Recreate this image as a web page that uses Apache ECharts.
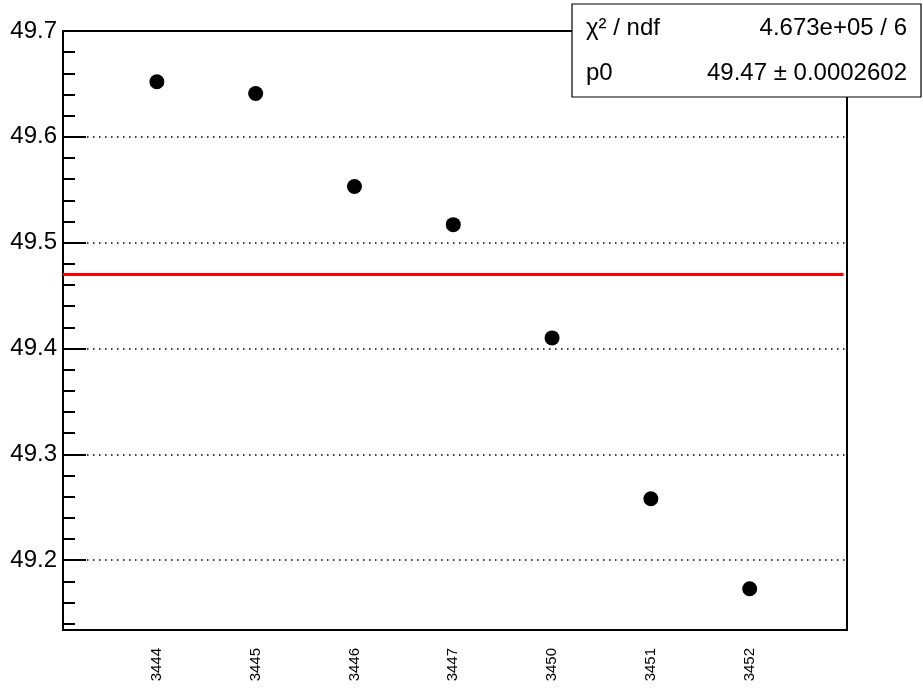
<!DOCTYPE html>
<html>
<head>
<meta charset="utf-8">
<script src="https://cdn.jsdelivr.net/npm/echarts@6/dist/echarts.min.js"></script>
<style>html,body{margin:0;padding:0;background:#fff}#c{width:923px;height:689px}</style>
</head>
<body>
<div id="c"></div>
<script>
const categories = ['3444', '3445', '3446', '3447', '3450', '3451', '3452'];
const values = [49.652, 49.641, 49.553, 49.517, 49.410, 49.258, 49.173];
const fitValue = 49.47;
const fitRange = [-0.95, 6.95];
const xRange = [-0.95, 6.985];
const yRange = [49.134, 49.7];
const yMajorTicks = [49.2, 49.3, 49.4, 49.5, 49.6, 49.7];
const yMinorTicks = [49.14, 49.16, 49.18, 49.22, 49.24, 49.26, 49.28, 49.32, 49.34, 49.36, 49.38,
  49.42, 49.44, 49.46, 49.48, 49.52, 49.54, 49.56, 49.58, 49.62, 49.64, 49.66, 49.68];
const statLabels = ['χ² / ndf', 'p0'];
const statValues = ['4.673e+05 / 6', '49.47 ± 0.0002602'];

const FONT = 'Liberation Sans, Arial, sans-serif';
const chart = echarts.init(document.getElementById('c'), null, {renderer: 'canvas'});

const pointData = values.map((v, i) => [i, v]);
const fitData = fitRange.map(x => [x, fitValue]);

chart.setOption({
  animation: false,
  backgroundColor: '#fff',
  grid: {left: 63, top: 31, right: 76, bottom: 59, show: true, borderColor: '#000', borderWidth: 2, backgroundColor: 'transparent'},
  xAxis: {
    type: 'value', min: xRange[0], max: xRange[1],
    axisLine: {show: true, onZero: false, lineStyle: {color: '#000', width: 2}},
    axisTick: {show: false},
    splitLine: {show: false},
    axisLabel: {
      show: true, rotate: 90, margin: 18, fontSize: 15, fontFamily: FONT, color: '#000',
      customValues: categories.map((c, i) => i),
      formatter: v => categories[Math.round(v)] || ''
    }
  },
  yAxis: [{
    type: 'value', min: yRange[0], max: yRange[1], position: 'left',
    axisLine: {show: true, onZero: false, lineStyle: {color: '#000', width: 2}},
    axisTick: {show: true, inside: true, length: 23, lineStyle: {color: '#000', width: 2}, customValues: yMajorTicks},
    axisLabel: {show: true, margin: 6, fontSize: 24, fontFamily: FONT, color: '#000', customValues: yMajorTicks,
      formatter: v => v.toFixed(1)},
    splitLine: {show: false}
  }, {
    type: 'value', min: yRange[0], max: yRange[1], position: 'left', offset: 0,
    axisLine: {show: false, onZero: false},
    axisTick: {show: true, inside: true, length: 12, lineStyle: {color: '#000', width: 2}, customValues: yMinorTicks},
    axisLabel: {show: false},
    splitLine: {show: false}
  }],
  series: [{
    name: 'grid', type: 'line', data: [], silent: true,
    markLine: {
      silent: true, symbol: 'none', label: {show: false},
      lineStyle: {color: '#000', width: 1.5, type: [1.5, 4.5]},
      data: yMajorTicks.slice(0, -1).map(v => ({yAxis: v}))
    }
  }, {
    name: 'fit', type: 'line', data: fitData, symbol: 'none', silent: true,
    lineStyle: {color: '#ff0000', width: 3}, z: 3
  }, {
    name: 'points', type: 'scatter', data: pointData, symbol: 'circle', symbolSize: 15,
    itemStyle: {color: '#000', opacity: 1}, z: 4
  }],
  graphic: [{
    type: 'group', z: 100,
    children: [{
      type: 'rect', shape: {x: 572, y: 4, width: 349, height: 93},
      style: {fill: '#fff', stroke: '#000', lineWidth: 1.2}
    }].concat(statLabels.map((t, i) => ({
      type: 'text', x: 586, y: 28 + i * 45,
      style: {text: t, font: '24px ' + FONT, fill: '#000', textAlign: 'left', textVerticalAlign: 'middle'}
    }))).concat(statValues.map((t, i) => ({
      type: 'text', x: 907, y: 28 + i * 45,
      style: {text: t, font: '24px ' + FONT, fill: '#000', textAlign: 'right', textVerticalAlign: 'middle'}
    })))
  }]
});
</script>
</body>
</html>
